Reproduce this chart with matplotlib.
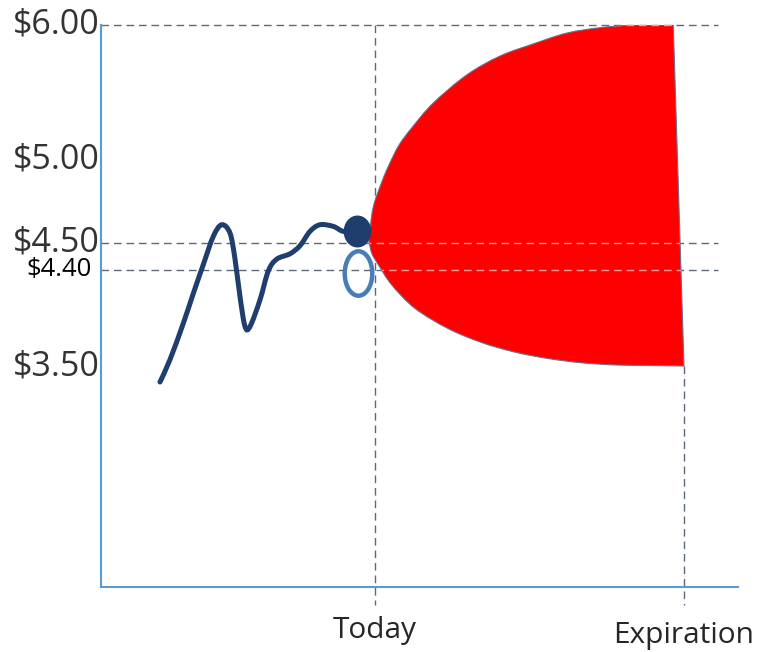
import numpy as np
import matplotlib
matplotlib.use("Agg")
import matplotlib.pyplot as plt
from matplotlib.path import Path
from matplotlib.patches import PathPatch
from matplotlib.markers import MarkerStyle
from matplotlib.transforms import Affine2D, blended_transform_factory

plt.rcParams["font.family"] = ["Open Sans", "DejaVu Sans"]

# Price history leading up to today
hist_t = [9.26, 10.83, 12.92, 14.49, 16.06, 17.63, 18.95, 20.25, 21.04, 21.82,
          22.61, 23.39, 24.96, 26.26, 27.58, 29.67, 31.24, 32.81, 34.38, 36.47,
          38.04, 40.19]
hist_price = [3.35, 3.56, 3.90, 4.18, 4.42, 4.54, 4.61, 4.56, 4.44, 4.15,
              3.87, 3.87, 4.12, 4.39, 4.44, 4.46, 4.49, 4.57, 4.61, 4.60,
              4.57, 4.57]

# Range of possible prices from today until expiration
cone_upper_t = [42.07, 42.70, 44.11, 45.21, 46.78, 48.82, 52.12, 57.41,
                62.64, 67.87, 73.11, 78.34, 83.56, 89.84]
cone_upper_price = [4.51, 4.71, 4.87, 4.97, 5.11, 5.24, 5.42, 5.63,
                    5.77, 5.86, 5.94, 5.98, 6.00, 6.00]
cone_lower_t = [42.07, 42.54, 43.53, 45.64, 49.29, 54.52, 59.76, 64.99,
                70.22, 75.46, 80.69, 85.92, 91.52]
cone_lower_price = [4.51, 4.46, 4.42, 4.26, 4.04, 3.85, 3.72, 3.63,
                    3.57, 3.53, 3.51, 3.505, 3.50]

spot_t, spot_price = 40.19, 4.57
strike_t, strike_price = 40.35, 4.37

today_t = 43.0
expiry_t = 91.52

level_prices = [6.00, 4.50, 4.40]
price_ticks = [6.00, 5.00, 4.50, 4.40, 3.50]
price_labels = ["$6.00", "$5.00", "$4.50", "$4.40", "$3.50"]
time_ticks = [today_t, expiry_t]
time_labels = ["Today", "Expiration"]

# Uneven (schematic) price axis: price -> fraction of axis height
scale_prices = [0.0, 3.50, 4.40, 4.50, 5.00, 6.00, 7.00]
scale_pos = [-0.2711, 0.3932, 0.5641, 0.6121, 0.7598, 1.0, 1.2402]


def fwd(p):
    return np.interp(p, scale_prices, scale_pos)


def inv(v):
    return np.interp(v, scale_pos, scale_prices)


fig = plt.figure(figsize=(7.66, 6.52), dpi=100)
ax = fig.add_axes([101 / 766, 65 / 652, 637 / 766, 562 / 652])
ax.set_yscale("function", functions=(fwd, inv))
ax.set_xlim(0, 100)
ax.set_ylim(float(inv(0.0)), 6.00)
ax.set_xticks([])
ax.set_yticks([])
ax.minorticks_off()
for side in ("top", "right"):
    ax.spines[side].set_visible(False)
for side in ("left", "bottom"):
    ax.spines[side].set_color("#5b9bd5")
    ax.spines[side].set_linewidth(1.5)

# data -> axes-fraction through the axes' own scale and limits
to_axes = ax.transScale + ax.transLimits


def smooth_segments(xs, ys):
    """Cubic Bezier segments (axes coords) passing through every point."""
    pts = to_axes.transform(np.column_stack([xs, ys]).astype(float))
    n = len(pts)
    verts, codes = [], []
    for i in range(n - 1):
        p0 = pts[i - 1] if i > 0 else pts[i]
        p1, p2 = pts[i], pts[i + 1]
        p3 = pts[i + 2] if i + 2 < n else pts[i + 1]
        verts += [p1 + (p2 - p0) / 6, p2 - (p3 - p1) / 6, p2]
        codes += [Path.CURVE4] * 3
    return pts, verts, codes


dash = (0, (5.5, 3.5))
grid_color = "#5d6878"

# Projected range cone: smooth upper edge, straight expiry edge, smooth lower edge
up_p, up_v, up_c = smooth_segments(cone_upper_t, cone_upper_price)
lo_p, lo_v, lo_c = smooth_segments(cone_lower_t[::-1], cone_lower_price[::-1])
cone_verts = [up_p[0]] + up_v + [lo_p[0]] + lo_v + [up_p[0]]
cone_codes = [Path.MOVETO] + up_c + [Path.LINETO] + lo_c + [Path.CLOSEPOLY]
cone = PathPatch(Path(cone_verts, cone_codes), transform=ax.transAxes,
                 facecolor="#ff0000", edgecolor="#6b6f8a", linewidth=0.8,
                 zorder=2)
ax.add_patch(cone)

# Reference price levels
for p in level_prices:
    ax.plot([0, 96.9], [p, p], color=grid_color, lw=1.0, ls=dash,
            clip_on=False, zorder=1)
    over = ax.plot([0, 96.9], [p, p], color="#ff9c9c", lw=1.0, ls=dash,
                   zorder=3)[0]
    over.set_clip_path(cone)

# Today / expiration markers
low = float(inv(-18 / 562))
ax.plot([today_t, today_t], [6.00, low], color=grid_color, lw=1.0, ls=dash,
        clip_on=False, zorder=1)
ax.plot([expiry_t, expiry_t], [cone_lower_price[-1], low], color=grid_color,
        lw=1.0, ls=dash, clip_on=False, zorder=1)

# Price history
h_p, h_v, h_c = smooth_segments(hist_t, hist_price)
hist = PathPatch(Path([h_p[0]] + h_v, [Path.MOVETO] + h_c),
                 transform=ax.transAxes, fill=False, edgecolor="#1f3d6d",
                 linewidth=3.6, zorder=4, capstyle="round", joinstyle="round")
ax.add_patch(hist)

# Current price and strike markers
spot_mark = MarkerStyle(Path.unit_circle().transformed(Affine2D().scale(0.86, 1.0)))
strike_mark = MarkerStyle(Path.unit_circle().transformed(Affine2D().scale(0.62, 1.0)))
ax.plot([spot_t], [spot_price], marker=spot_mark, ms=22, color="#1f3d6d",
        mec="#1f3d6d", ls="none", zorder=5)
ax.plot([strike_t], [strike_price], marker=strike_mark, ms=32, mfc="none",
        mec="#4a7db8", mew=3.2, ls="none", zorder=5)

# Axis labels
ylab = blended_transform_factory(ax.transAxes, ax.transData)
for p, lab in zip(price_ticks, price_labels):
    small = lab == "$4.40"
    ax.text(-0.014 if small else -0.002, p, lab, transform=ylab,
            ha="right", va="center",
            fontsize=18.5 if small else 24.5,
            color="#000000" if small else "#333333")

xlab = blended_transform_factory(ax.transData, ax.transAxes)
for t, lab, yy in zip(time_ticks, time_labels, [-0.078, -0.087]):
    ax.text(t, yy, lab, transform=xlab, ha="center", va="center",
            fontsize=21.5, color="#262626")

fig.savefig("out.png", dpi=100, facecolor="white")
